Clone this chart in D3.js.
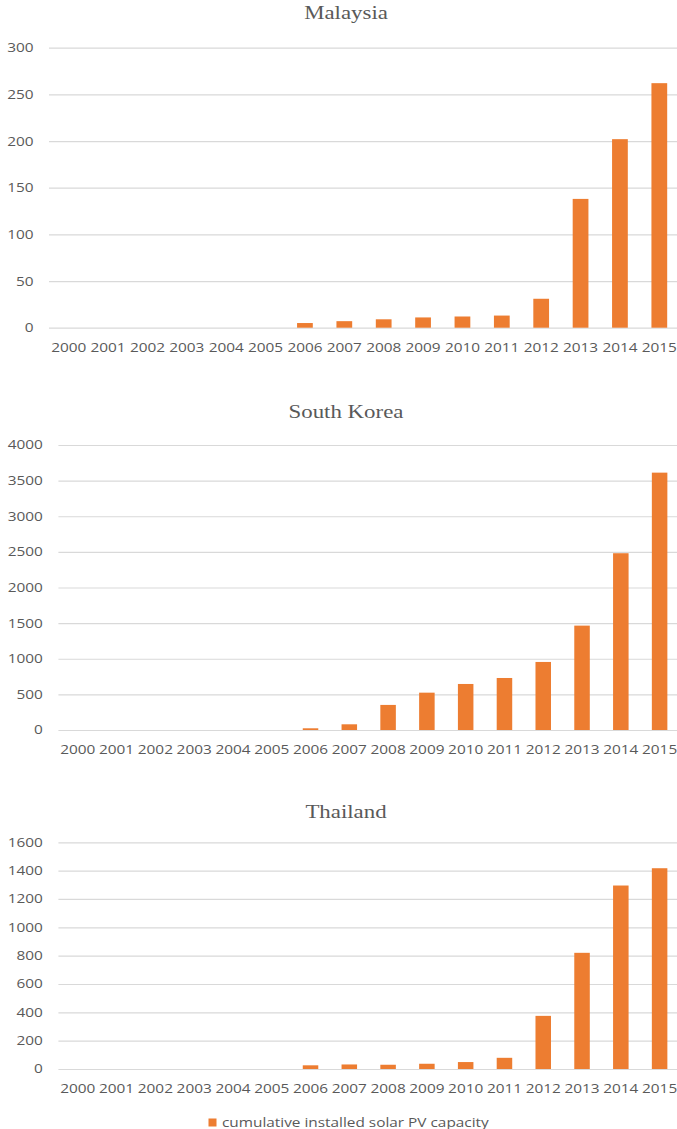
<!DOCTYPE html>
<html>
<head>
<meta charset="utf-8">
<script src="https://cdn.jsdelivr.net/npm/d3@7"></script>
<style>
  body { margin: 0; background: #fff; }
  svg { display: block; }
</style>
</head>
<body>
<svg id="svg" width="677" height="1129"></svg>
<script>
// data
const years = ["2000", "2001", "2002", "2003", "2004", "2005", "2006", "2007",
  "2008", "2009", "2010", "2011", "2012", "2013", "2014", "2015"];
const malaysia = [0, 0, 0, 0, 0, 0, 5, 7, 9, 11, 12, 13, 31, 138, 202, 262];
const korea = [0, 0, 0, 0, 0, 0, 24, 80, 352, 524, 646, 730, 955, 1465, 2481, 3612];
const thailand = [0, 0, 0, 0, 0, 0, 26, 32, 30, 37, 49, 79, 375, 820, 1295, 1417];
const malaysiaTicks = [0, 50, 100, 150, 200, 250, 300];
const koreaTicks = [0, 500, 1000, 1500, 2000, 2500, 3000, 3500, 4000];
const thailandTicks = [0, 200, 400, 600, 800, 1000, 1200, 1400, 1600];
const legendLabel = "cumulative installed solar PV capacity";

const orange = "#ED7D31";
const grey = "#595959";
const gridColor = "#d9d9d9";
const sx = 1.24; // the reference is stretched sideways, text too

const svg = d3.select("#svg");

function panel(title, values, ticks, box) {
  const g = svg.append("g");

  const x = d3.scaleBand().domain(years).range([box.left, box.right])
    .paddingInner(0.6).paddingOuter(0.3);
  const y = d3.scaleLinear().domain([0, d3.max(ticks)]).range([box.zero, box.top]);

  // gridlines + y labels
  const yAxis = g.append("g")
    .attr("transform", `translate(${box.left},0)`)
    .call(d3.axisLeft(y).tickValues(ticks).tickFormat(d3.format("d"))
      .tickSizeInner(-(box.right - box.left)).tickSizeOuter(0));
  yAxis.select(".domain").remove();
  yAxis.selectAll("line").attr("stroke", gridColor).attr("stroke-width", 1.2);
  yAxis.selectAll("text")
    .attr("x", -15.5 / sx)
    .attr("transform", `scale(${sx},1)`)
    .attr("fill", grey)
    .style("font-family", "'Open Sans', sans-serif")
    .style("font-size", "12.4px");

  // bars
  g.selectAll("rect.bar")
    .data(values)
    .join("rect")
    .attr("class", "bar")
    .attr("x", (d, i) => x(years[i]))
    .attr("width", x.bandwidth())
    .attr("y", d => y(d))
    .attr("height", d => y(0) - y(d))
    .attr("fill", orange);

  // year labels
  const xAxis = g.append("g")
    .attr("transform", `translate(0,${box.zero})`)
    .call(d3.axisBottom(x).tickSize(0).tickPadding(15.5));
  xAxis.select(".domain").remove();
  xAxis.selectAll("text")
    .attr("transform", `scale(${sx},1)`)
    .attr("fill", grey)
    .style("font-family", "'Open Sans', sans-serif")
    .style("font-size", "12.4px");

  // title
  g.append("text")
    .attr("transform", `translate(346,${box.titleY}) scale(1.27,1)`)
    .attr("text-anchor", "middle")
    .attr("fill", grey)
    .style("font-family", "'Liberation Serif', 'Times New Roman', serif")
    .style("font-size", "18px")
    .text(title);
}

panel("Malaysia", malaysia, malaysiaTicks, { left: 49, right: 679, top: 47.7, zero: 327.7, titleY: 19 });
panel("South Korea", korea, koreaTicks, { left: 58.4, right: 679, top: 445, zero: 730, titleY: 418 });
panel("Thailand", thailand, thailandTicks, { left: 58.4, right: 679, top: 842.3, zero: 1069, titleY: 818 });

// legend
const legend = svg.append("g");
legend.append("rect")
  .attr("x", 208.5).attr("y", 1118.5)
  .attr("width", 8).attr("height", 8)
  .attr("fill", orange);
legend.append("text")
  .attr("transform", `translate(222,1126.5) scale(${sx},1)`)
  .attr("fill", grey)
  .style("font-family", "'Open Sans', sans-serif")
  .style("font-size", "12.4px")
  .text(legendLabel);
</script>
</body>
</html>
